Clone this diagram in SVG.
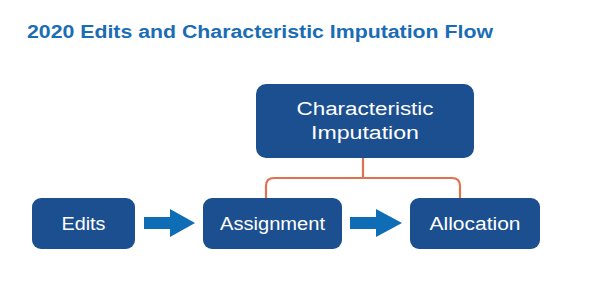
<svg xmlns="http://www.w3.org/2000/svg" width="597" height="302" viewBox="0 0 597 302">
<style>
.box{fill:#1c4f8f}
.lbl{fill:#ffffff;font-family:"Liberation Sans",Arial,sans-serif;font-size:18px;text-anchor:middle}
.title{fill:#1a6db4;font-family:"Liberation Sans",Arial,sans-serif;font-size:18px;font-weight:bold}
.con{fill:none;stroke:#e0724f;stroke-width:2.2}
.arr{fill:#0f6db5}
</style>
<rect width="597" height="302" fill="#ffffff"/>
<text class="title" x="27" y="38" textLength="466" lengthAdjust="spacingAndGlyphs">2020 Edits and Characteristic Imputation Flow</text>
<g id="connectors">
<path class="con" d="M363,158 V178 M266,199 V186 Q266,178 274,178 H452 Q460,178 460,186 V199"/>
<path class="arr" d="M144,217 H170 V209 L195,223 L170,237 V229 H144 Z"/>
<path class="arr" d="M350,217 H376 V209 L402,223 L376,237 V229 H350 Z"/>
</g>
<g id="characteristic">
<rect class="box" x="256" y="84" width="218" height="74" rx="10"/>
<text class="lbl" x="365" y="115" font-size="19" textLength="137" lengthAdjust="spacingAndGlyphs">Characteristic</text>
<text class="lbl" x="365" y="139" font-size="19" textLength="108" lengthAdjust="spacingAndGlyphs">Imputation</text>
</g>
<g id="edits">
<rect class="box" x="32" y="198" width="103" height="51" rx="9"/>
<text class="lbl" x="83.5" y="230" textLength="44" lengthAdjust="spacingAndGlyphs">Edits</text>
</g>
<g id="assignment">
<rect class="box" x="203" y="198" width="139" height="51" rx="9"/>
<text class="lbl" x="272.5" y="230" textLength="105" lengthAdjust="spacingAndGlyphs">Assignment</text>
</g>
<g id="allocation">
<rect class="box" x="410" y="198" width="130" height="51" rx="9"/>
<text class="lbl" x="475" y="230" textLength="91" lengthAdjust="spacingAndGlyphs">Allocation</text>
</g>
</svg>
